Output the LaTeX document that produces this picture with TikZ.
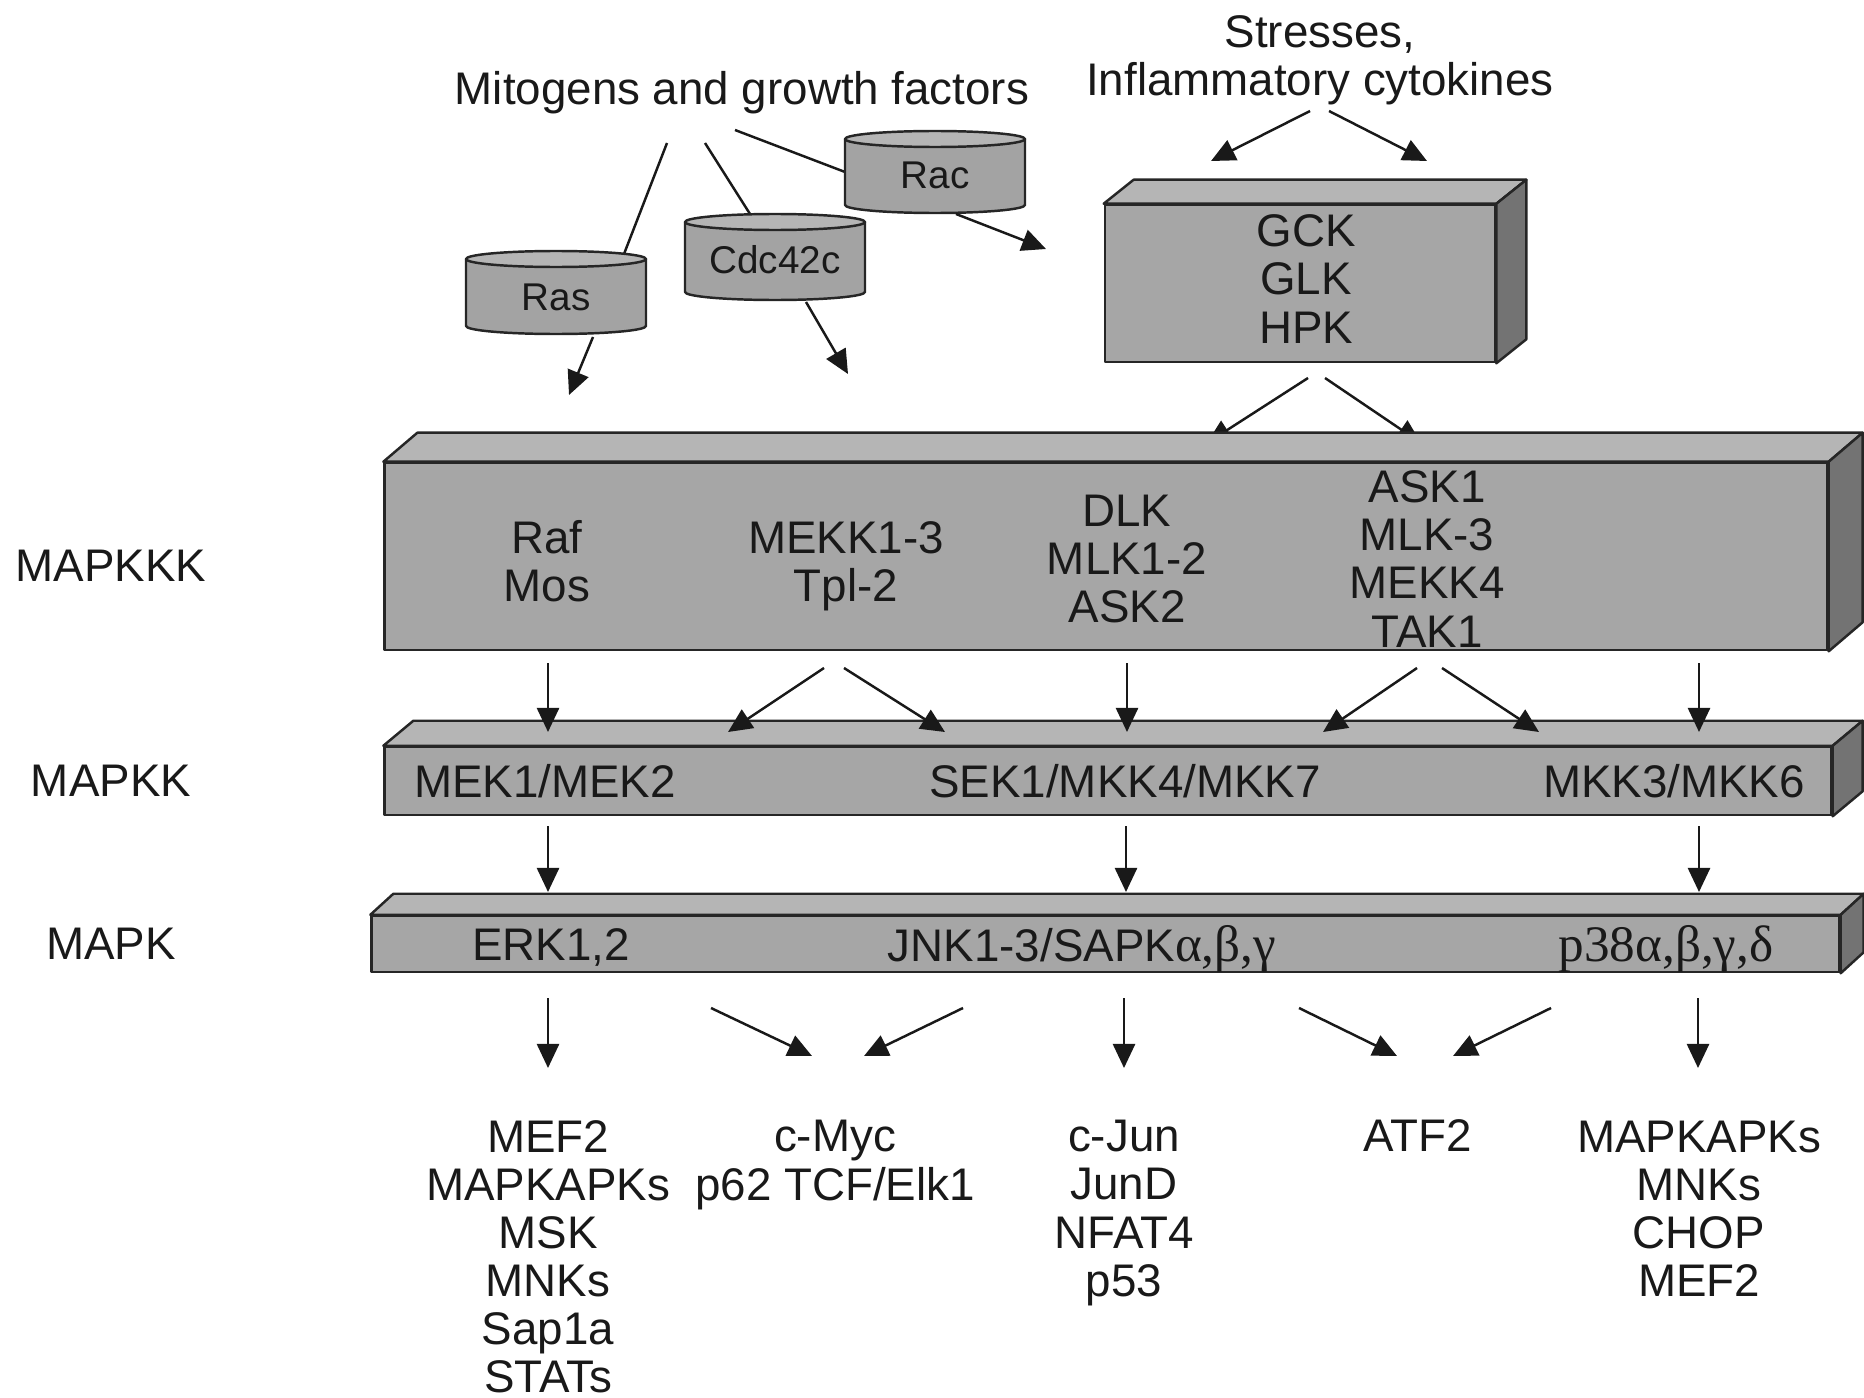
\documentclass[tikz,border=0pt]{standalone}
\usepackage{fontspec}
\setmainfont{Liberation Sans}
\newfontfamily\grk[Scale=1.12]{Liberation Serif}
\usetikzlibrary{arrows.meta,calc}

% top and right faces of a slab whose front face is the node #1, depth (#2,#3)
\newcommand\slabfaces[3]{%
  \draw[topface] (#1.north west) -- ++(#2,#3) -- ($(#1.north east)+(#2,#3)$) -- (#1.north east) -- cycle;
  \draw[sideface] (#1.north east) -- ++(#2,#3) -- ($(#1.south east)+(#2,#3)$) -- (#1.south east) -- cycle;
}
% drum: #1 name, #2 centre x, #3 top y, #4 bottom y, #5 half width, #6 label y, #7 label
\newcommand\drum[7]{%
  \draw[face, fill=black!36] ({#2-#5},#3) -- ({#2-#5},#4)
     arc[start angle=180, end angle=360, x radius=#5, y radius=8] -- ({#2+#5},#3) -- cycle;
  \draw[face, fill=black!29] (#2,#3) ellipse[x radius=#5, y radius=8];
  \node[drumtxt] (#1) at (#2,#6) {#7};
}

\begin{document}
\begin{tikzpicture}[x=0.01cm, y=0.01cm,
  txt/.style={font=\fontsize{13pt}{13.66pt}\selectfont, inner sep=0pt, align=center, text=black!90},
  drumtxt/.style={font=\fontsize{11pt}{12pt}\selectfont, inner sep=0pt, text=black!90},
  face/.style={draw=black!85, line width=0.7pt, line join=round},
  front/.style={face, fill=black!35, inner sep=0pt},
  topface/.style={face, fill=black!29},
  sideface/.style={face, fill=black!55},
  arr/.style={draw=black!90, line width=0.7pt, -{Triangle[length=0.24cm, width=0.22cm]}},
  wire/.style={draw=black!90, line width=0.7pt},
]
\useasboundingbox (0,0) rectangle (1864,-1397);

% ---- inputs ----
\node[txt] (mitogens) at (742,-93) {Mitogens and growth factors};
\node[txt] (stresses) at (1320,-60) {Stresses,\\Inflammatory cytokines};

% ---- small G proteins ----
\coordinate (m1) at (667,-143); \coordinate (m1e) at (624,-254);
\coordinate (m2) at (705,-143); \coordinate (m2e) at (750,-214);
\coordinate (m3) at (735,-130); \coordinate (m3e) at (845,-172);
\draw[wire] (m1) -- (m1e);
\draw[wire] (m2) -- (m2e);
\draw[wire] (m3) -- (m3e);

\drum{rac}{935}{-139}{-205}{90}{-175}{Rac}
\drum{cdc}{775}{-222}{-292}{90}{-260}{Cdc42c}
\drum{ras}{556}{-259}{-326}{90}{-297}{Ras}

\coordinate (ras-o) at (593,-337); \coordinate (ras-t) at (569,-395);
\coordinate (cdc-o) at (806,-302); \coordinate (cdc-t) at (848,-374);
\coordinate (rac-o) at (956,-214); \coordinate (rac-t) at (1046,-249);
\draw[arr] (ras-o) -- (ras-t);
\draw[arr] (cdc-o) -- (cdc-t);
\draw[arr] (rac-o) -- (rac-t);

% ---- stress kinases ----
\coordinate (s-l) at (1310,-111); \coordinate (s-lt) at (1211,-161);
\coordinate (s-r) at (1329,-111); \coordinate (s-rt) at (1427,-161);
\draw[arr] (s-l) -- (s-lt);
\draw[arr] (s-r) -- (s-rt);

\node[front, minimum width=3.9cm, minimum height=1.57cm] (gckbox) at (1300,-283.5) {};
\slabfaces{gckbox}{30}{24}
\node[txt] (gck) at (1306,-279) {GCK\\GLK\\HPK};

\coordinate (g-l) at (1308,-378); \coordinate (g-lt) at (1207,-443);
\coordinate (g-r) at (1325,-378); \coordinate (g-rt) at (1421,-443);
\draw[arr] (g-l) -- (g-lt);
\draw[arr] (g-r) -- (g-rt);

% ---- MAPKKK ----
\node[front, minimum width=14.42cm, minimum height=1.87cm] (mapkkkbox) at (1106,-556.5) {};
\slabfaces{mapkkkbox}{34}{29}
\node[txt] (rafmos) at (547,-561.5) {Raf\\Mos};
\node[txt] (mekk) at (846,-566) {MEKK1-3\\Tpl-2};
\node[txt] (dlk) at (1127,-559) {DLK\\MLK1-2\\ASK2};
\node[txt] (ask) at (1427,-559) {ASK1\\MLK-3\\MEKK4\\TAK1};

% ---- MAPKK ----
\node[front, minimum width=14.46cm, minimum height=0.68cm] (mapkkbox) at (1108,-781) {};
\slabfaces{mapkkbox}{30}{25}
\node[txt] (mek) at (545,-781) {MEK1/MEK2};
\node[txt] (sek) at (1125,-781) {SEK1/MKK4/MKK7};
\node[txt] (mkk) at (1674,-781) {MKK3/MKK6};

% ---- MAPK ----
\node[front, minimum width=14.67cm, minimum height=0.56cm] (mapkbox) at (1105.5,-944) {};
\slabfaces{mapkbox}{23}{21}
\node[txt] (erk) at (551,-947) {ERK1,2};
\node[txt] (jnk) at (1082,-949) {JNK1-3/SAPK{\grk α,β,γ}};
\node[txt] (p38) at (1666,-949) {{\grk p38α,β,γ,δ}};

% ---- tier labels ----
\node[txt] (lkkk) at (111,-566) {MAPKKK};
\node[txt] (lkk) at (111,-781) {MAPKK};
\node[txt] (lk) at (111,-944) {MAPK};

% ---- MAPKKK -> MAPKK ----
\coordinate (a1) at (548,-663);  \coordinate (a1t) at (548,-732);
\coordinate (a2) at (824,-668);  \coordinate (a2t) at (728,-732);
\coordinate (a3) at (844,-668);  \coordinate (a3t) at (945,-732);
\coordinate (a4) at (1127,-663); \coordinate (a4t) at (1127,-732);
\coordinate (a5) at (1417,-668); \coordinate (a5t) at (1323,-732);
\coordinate (a6) at (1442,-668); \coordinate (a6t) at (1539,-732);
\coordinate (a7) at (1699,-663); \coordinate (a7t) at (1699,-732);
\foreach \p in {a1,a2,a3,a4,a5,a6,a7} \draw[arr] (\p) -- (\p t);

% ---- MAPKK -> MAPK ----
\coordinate (b1) at (548,-826);  \coordinate (b1t) at (548,-892);
\coordinate (b2) at (1126,-826); \coordinate (b2t) at (1126,-892);
\coordinate (b3) at (1699,-826); \coordinate (b3t) at (1699,-892);
\foreach \p in {b1,b2,b3} \draw[arr] (\p) -- (\p t);

% ---- MAPK -> substrates ----
\coordinate (c1) at (548,-998);  \coordinate (c1t) at (548,-1068);
\coordinate (c2) at (711,-1008); \coordinate (c2t) at (812,-1056);
\coordinate (c3) at (963,-1008); \coordinate (c3t) at (864,-1056);
\coordinate (c4) at (1124,-998); \coordinate (c4t) at (1124,-1068);
\coordinate (c5) at (1299,-1008);\coordinate (c5t) at (1397,-1056);
\coordinate (c6) at (1551,-1008);\coordinate (c6t) at (1453,-1056);
\coordinate (c7) at (1698,-998); \coordinate (c7t) at (1698,-1068);
\foreach \p in {c1,c2,c3,c4,c5,c6,c7} \draw[arr] (\p) -- (\p t);

\node[txt] (out1) at (548,-1256.5) {MEF2\\MAPKAPKs\\MSK\\MNKs\\Sap1a\\STATs};
\node[txt] (out2) at (835,-1165) {c-Myc\\p62 TCF/Elk1};
\node[txt] (out3) at (1124,-1213) {c-Jun\\JunD\\NFAT4\\p53};
\node[txt] (out4) at (1418,-1136) {ATF2};
\node[txt] (out5) at (1699,-1208.5) {MAPKAPKs\\MNKs\\CHOP\\MEF2};
\end{tikzpicture}
\end{document}
